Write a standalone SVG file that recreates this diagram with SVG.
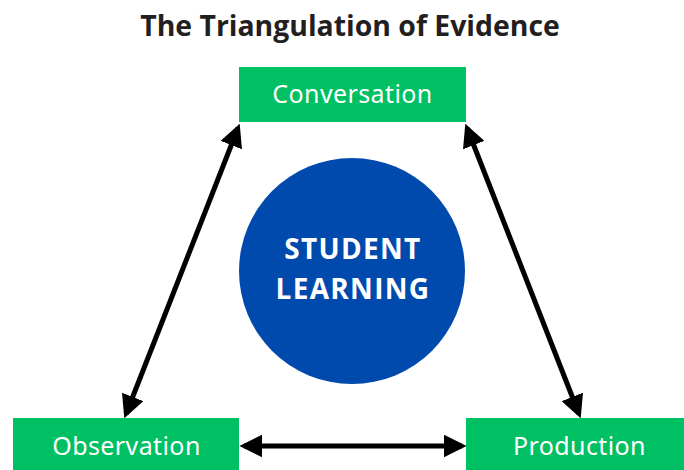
<svg xmlns="http://www.w3.org/2000/svg" width="684" height="470" viewBox="0 0 684 470">
<defs>
<style>
.box{fill:#00c064;}
.lbl{font-family:"Noto Sans","Open Sans",sans-serif;font-size:25px;letter-spacing:0.4px;fill:#ffffff;text-anchor:middle;}
.conn{stroke:#000;stroke-width:5;fill:none;marker-start:url(#ah);marker-end:url(#ah);}
.title{font-family:"Open Sans","Noto Sans",sans-serif;font-weight:bold;font-size:28.4px;fill:#231f20;text-anchor:middle;}
.center{font-family:"Open Sans","Noto Sans",sans-serif;font-weight:bold;font-size:28px;letter-spacing:1.3px;fill:#ffffff;text-anchor:middle;}
</style>
<marker id="ah" viewBox="0 0 10 10" refX="8" refY="5" markerWidth="4.6" markerHeight="4.6" orient="auto-start-reverse" markerUnits="strokeWidth">
<path d="M0,0 L10,5 L0,10 z" fill="#000"/>
</marker>
</defs>
<rect width="684" height="470" fill="#ffffff"/>
<text class="title" x="350" y="36">The Triangulation of Evidence</text>
<g id="connectors">
<line class="conn" x1="238" y1="128" x2="126" y2="414"/>
<line class="conn" x1="467" y1="128" x2="579" y2="414"/>
<line class="conn" x1="244" y1="446" x2="462" y2="446"/>
</g>
<g id="center">
<circle cx="352" cy="271" r="113" fill="#014aad"/>
<text class="center" x="353" y="259">STUDENT</text>
<text class="center" x="353" y="299">LEARNING</text>
</g>
<g id="conversation">
<rect class="box" x="239" y="67" width="227" height="55"/>
<text class="lbl" x="352.5" y="103">Conversation</text>
</g>
<g id="observation">
<rect class="box" x="13" y="418" width="226" height="60"/>
<text class="lbl" x="126.5" y="455">Observation</text>
</g>
<g id="production">
<rect class="box" x="466" y="418" width="226" height="60"/>
<text class="lbl" x="579.5" y="455">Production</text>
</g>
</svg>
